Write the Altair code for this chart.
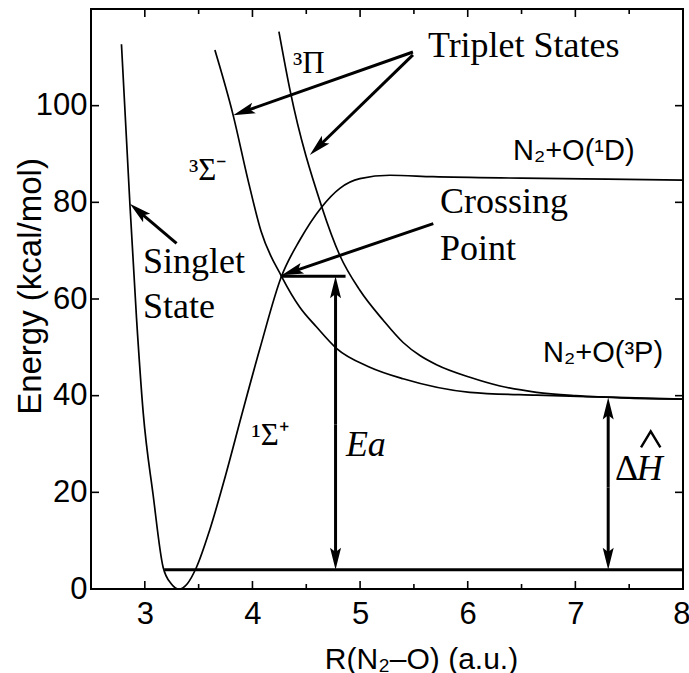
import math
import altair as alt
import pandas as pd

# ---------------- data ----------------
X_MIN, X_MAX = 2.5, 8.0
Y_MIN, Y_MAX = 0.0, 120.0
W, H = 592, 580

x_ticks = [3, 4, 5, 6, 7, 8]
x_minor = [3.5, 4.5, 5.5, 6.5, 7.5]
y_ticks = [0, 20, 40, 60, 80, 100]

# singlet 1Sigma+ curve
singlet_x = [2.783, 2.861, 2.923, 2.985, 3.077, 3.170, 3.245, 3.319, 3.395, 3.480,
             3.600, 3.750, 3.900, 4.070, 4.270, 4.440, 4.642, 4.812, 4.998, 5.277,
             5.676, 6.500, 7.300, 8.000]
singlet_y = [112.7, 79.8, 56.0, 36.5, 19.5, 4.5, 1.1, 0.0, 1.1, 4.5,
             12.0, 23.5, 36.0, 49.8, 64.7, 72.2, 79.0, 82.9, 84.9, 85.6,
             85.3, 85.0, 84.8, 84.6]

# triplet 3Sigma- curve
sigma_x = [3.651, 3.821, 3.960, 4.080, 4.270, 4.440, 4.596, 4.780, 5.090, 5.400,
           6.020, 6.640, 7.300, 8.000]
sigma_y = [111.5, 98.0, 84.5, 74.0, 64.7, 58.3, 54.2, 49.8, 45.9, 43.5,
           40.7, 40.1, 39.7, 39.3]

# triplet 3Pi curve
pi_x = [4.246, 4.349, 4.642, 4.812, 4.998, 5.215, 5.400, 5.556, 5.710, 6.020,
        6.300, 6.640, 7.000, 7.500, 8.000]
pi_y = [115.3, 103.2, 79.2, 69.0, 61.8, 55.6, 51.0, 48.3, 46.4, 43.8,
        42.0, 40.7, 40.0, 39.5, 39.3]

# zero-point level and crossing-point level
level_x = [3.18, 4.261]
level_x2 = [8.0, 4.865]
level_y = [4.0, 64.7]

# arrows: tail -> tip
arrow_tail_x = [5.491, 5.491, 3.295, 5.680, 4.772, 4.772, 7.305, 7.305]
arrow_tail_y = [111.1, 110.5, 71.5, 75.6, 34.0, 34.0, 21.0, 21.0]
arrow_tip_x = [3.821, 4.533, 2.861, 4.270, 4.772, 4.772, 7.305, 7.305]
arrow_tip_y = [98.0, 89.8, 79.7, 64.9, 64.7, 4.0, 39.6, 4.0]

# annotations
serif_text = ["Triplet States", "Singlet", "State", "Crossing", "Point"]
serif_x = [5.630, 2.982, 2.982, 5.742, 5.742]
serif_y = [110.0, 65.3, 56.0, 77.7, 68.0]

sans_text = ["N\u2082+O(\u00b9D)", "N\u2082+O(\u00b3P)"]
sans_x = [6.42, 6.70]
sans_y = [88.7, 47.0]

greek_text = ["\u00b3\u03a0", "\u00b3\u03a3\u207b", "\u00b9\u03a3\u207a"]
greek_x = [4.376, 3.41, 3.99]
greek_y = [106.7, 84.6, 29.7]

italic_text = ["Ea", "H"]
italic_x = [4.868, 7.57]
italic_y = [27.6, 22.5]

delta_text = ["\u0394"]
delta_x = [7.368]
delta_y = [22.5]

hat_x = [7.61, 7.70, 7.79]
hat_y = [29.3, 32.6, 29.3]

# ---------------- helpers ----------------
PXX = W / (X_MAX - X_MIN)
PXY = H / (Y_MAX - Y_MIN)

xs = alt.Scale(domain=[X_MIN, X_MAX], nice=False, zero=False)
ys = alt.Scale(domain=[Y_MIN, Y_MAX], nice=False, zero=False)

XAXIS = alt.Axis(values=x_ticks, format="d", domain=False, ticks=False, grid=False,
                 labelFont="Liberation Sans", labelFontSize=31, labelColor="black",
                 labelPadding=10, labelFlush=4, labelFlushOffset=7,
                 titleFont="Liberation Sans", titleFontSize=30, titleFontWeight="normal",
                 titleColor="black", titleX=330, titleY=79,
                 titleBaseline="alphabetic", titleAnchor="middle")
YAXIS = alt.Axis(values=y_ticks, format="d", domain=False, ticks=False, grid=False,
                 labelFont="Liberation Sans", labelFontSize=31, labelColor="black",
                 labelPadding=4, labelFlush=False, labelBaseline="middle",
                 titleFont="Liberation Sans", titleFontSize=33, titleFontWeight="normal",
                 titleColor="black", titleX=-61, titleY=277, titleAngle=-90,
                 titleAlign="center", titleBaseline="middle")
XTITLE = "R(N\u2082\u2013O) (a.u.)"
YTITLE = "Energy (kcal/mol)"


def X(f="x"):
    return alt.X(f"{f}:Q", scale=xs, axis=XAXIS, title=XTITLE)


def Y(f="y"):
    return alt.Y(f"{f}:Q", scale=ys, axis=YAXIS, title=YTITLE)


curves = pd.concat([
    pd.DataFrame({"x": singlet_x, "y": singlet_y, "c": "singlet"}),
    pd.DataFrame({"x": sigma_x, "y": sigma_y, "c": "sigma"}),
    pd.DataFrame({"x": pi_x, "y": pi_y, "c": "pi"}),
])

HEAD_BACK = 14.0  # px, where arrow shaft stops behind the tip
arrows = []
for tx, ty, hx, hy in zip(arrow_tail_x, arrow_tail_y, arrow_tip_x, arrow_tip_y):
    dx = (hx - tx) * PXX
    dy = -(hy - ty) * PXY  # screen coords
    L = math.hypot(dx, dy)
    ang = math.degrees(math.atan2(dx, -dy)) % 360
    ex = hx - (dx / L) * HEAD_BACK / PXX
    ey = hy + (dy / L) * HEAD_BACK / PXY
    arrows.append({"x": tx, "y": ty, "x2": ex, "y2": ey, "hx": hx, "hy": hy, "ang": ang})
arrows = pd.DataFrame(arrows)

# tick marks drawn inward
MAJ, MIN_ = 8.0, 5.0
tick_rows = []
for v in x_ticks[:-1]:
    tick_rows.append({"x": v, "x2": v, "y": Y_MIN, "y2": Y_MIN + MAJ / PXY})
    tick_rows.append({"x": v, "x2": v, "y": Y_MAX, "y2": Y_MAX - MAJ / PXY})
for v in x_minor:
    tick_rows.append({"x": v, "x2": v, "y": Y_MIN, "y2": Y_MIN + MIN_ / PXY})
    tick_rows.append({"x": v, "x2": v, "y": Y_MAX, "y2": Y_MAX - MIN_ / PXY})
for v in y_ticks[1:]:
    tick_rows.append({"x": X_MIN, "x2": X_MIN + MAJ / PXX, "y": v, "y2": v})
    tick_rows.append({"x": X_MAX, "x2": X_MAX - MAJ / PXX, "y": v, "y2": v})
ticks = alt.Chart(pd.DataFrame(tick_rows)).mark_rule(color="black", strokeWidth=1.6).encode(
    x=X(), x2="x2:Q", y=Y(), y2="y2:Q")

lines = alt.Chart(curves).mark_line(color="black", strokeWidth=1.7, interpolate="monotone").encode(
    x=X(), y=Y(), detail="c:N", order="x:Q")

levels = alt.Chart(pd.DataFrame({"x": level_x, "x2": level_x2, "y": level_y})).mark_rule(
    color="black", strokeWidth=3).encode(x=X(), x2="x2:Q", y=Y())

shafts = alt.Chart(arrows).mark_rule(color="black", strokeWidth=3).encode(
    x=X(), y=Y(), x2="x2:Q", y2="y2:Q")

HEAD = "M0,0 L-1,4 L0,3.2 L1,4 Z"
heads = alt.Chart(arrows).mark_point(shape=HEAD, filled=True, size=121, color="black",
                                     opacity=1, strokeWidth=0).encode(
    x=X("hx"), y=Y("hy"), angle=alt.Angle("ang:Q", scale=None))

hat = alt.Chart(pd.DataFrame({"x": hat_x, "y": hat_y})).mark_line(
    color="black", strokeWidth=2.4).encode(x=X(), y=Y(), order="x:Q")


def text_layer(txt, tx, ty, **kw):
    df = pd.DataFrame({"t": txt, "x": tx, "y": ty})
    return alt.Chart(df).mark_text(align="left", baseline="alphabetic", color="black", **kw).encode(
        x=X(), y=Y(), text="t:N")


t_serif = text_layer(serif_text, serif_x, serif_y, font="Liberation Serif", fontSize=36)
t_sans = text_layer(sans_text, sans_x, sans_y, font="Liberation Sans", fontSize=29)
t_greek = text_layer(greek_text, greek_x, greek_y, font="Liberation Serif", fontSize=31)
t_ital = text_layer(italic_text, italic_x, italic_y, font="Liberation Serif", fontSize=36,
                    fontStyle="italic")
t_delta = text_layer(delta_text, delta_x, delta_y, font="Liberation Serif", fontSize=36)

chart = alt.layer(ticks, lines, levels, shafts, heads, hat,
                  t_serif, t_sans, t_greek, t_ital, t_delta).properties(
    width=W, height=H,
    padding={"left": 91, "top": 9, "right": 6, "bottom": 84},
    autosize=alt.AutoSizeParams(type="none"),
    background="white",
).configure_view(stroke="black", strokeWidth=2)

chart.save("out.html", embed_options={"renderer": "svg", "actions": False})
